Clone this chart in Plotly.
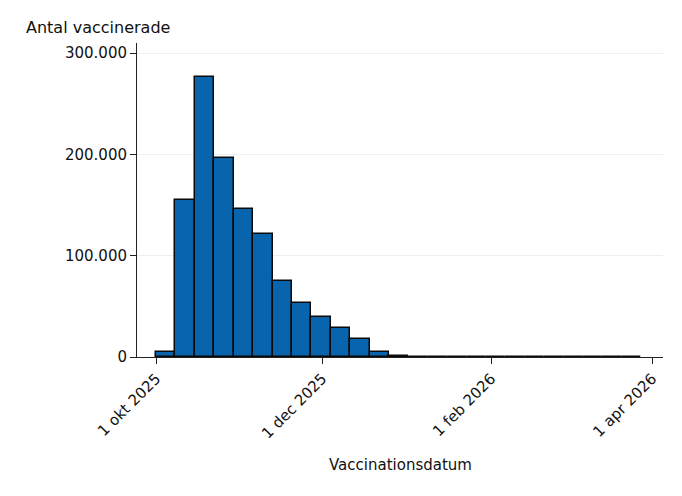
import plotly.graph_objects as go
import pandas as pd

# 25 lika breda staplar, 1 okt 2025 - 28 mar 2026
edges = pd.date_range('2025-10-01', '2026-03-28', periods=26)
antal = [4500, 155000, 276500, 196500, 146500, 121000, 75000, 53500, 39500,
         29000, 18000, 4500, 500, 350, 300, 250, 250, 200, 200, 150, 150,
         150, 100, 100, 100]

tick_vals = ['2025-10-01', '2025-12-01', '2026-02-01', '2026-04-01']
tick_text = ['1 okt 2025', '1 dec 2025', '1 feb 2026', '1 apr 2026']
y_ticks = [0, 100000, 200000, 300000]

bin_ms = (edges[1] - edges[0]).total_seconds() * 1000
mid = edges[:-1] + (edges[1] - edges[0]) / 2

fig = go.Figure(go.Bar(x = mid, y = antal, width = bin_ms,
                       marker = dict(color = '#0864ac', line = dict(color = '#0a0a0a', width = 1.5))))

# sidan har 8px body-marginal, därför förskjutna marginaler
L, R, T, B = 129, 27, 35, 147
pw = 682 - L - R
ph = 496 - T - B

font = 'DejaVu Sans'
fig.update_layout(width = 682, height = 496, plot_bgcolor = 'white', paper_bgcolor = 'white',
                  margin = dict(l = L, r = R, t = T, b = B),
                  separators = ',.', showlegend = False, bargap = 0,
                  font = dict(family = font, size = 15, color = '#111111'))
fig.update_xaxes(range = ['2025-09-24', '2026-04-05'], tickmode = 'array',
                 tickvals = tick_vals, ticktext = tick_text, tickangle = -45,
                 showline = True, linecolor = '#222222', linewidth = 1,
                 ticks = 'outside', ticklen = 6, tickcolor = '#222222',
                 showgrid = False, zeroline = False, automargin = False)
fig.update_yaxes(range = [0, 310000], tickmode = 'array', tickvals = y_ticks,
                 tickformat = ',d', showline = True, linecolor = '#222222', linewidth = 1,
                 ticks = 'outside', ticklen = 6, tickcolor = '#222222',
                 showgrid = True, gridcolor = '#eaf0f2', zeroline = False, automargin = False)
fig.add_annotation(text = 'Antal vaccinerade', xref = 'paper', yref = 'paper',
                   x = (16 - L) / pw, y = 1.0 + 16 / ph, xanchor = 'left', yanchor = 'middle',
                   showarrow = False, font = dict(size = 16))
fig.add_annotation(text = 'Vaccinationsdatum', xref = 'paper', yref = 'paper',
                   x = 0.5, y = -108 / ph, xanchor = 'center', yanchor = 'middle',
                   showarrow = False, font = dict(size = 15))
fig.write_html("out.html")
